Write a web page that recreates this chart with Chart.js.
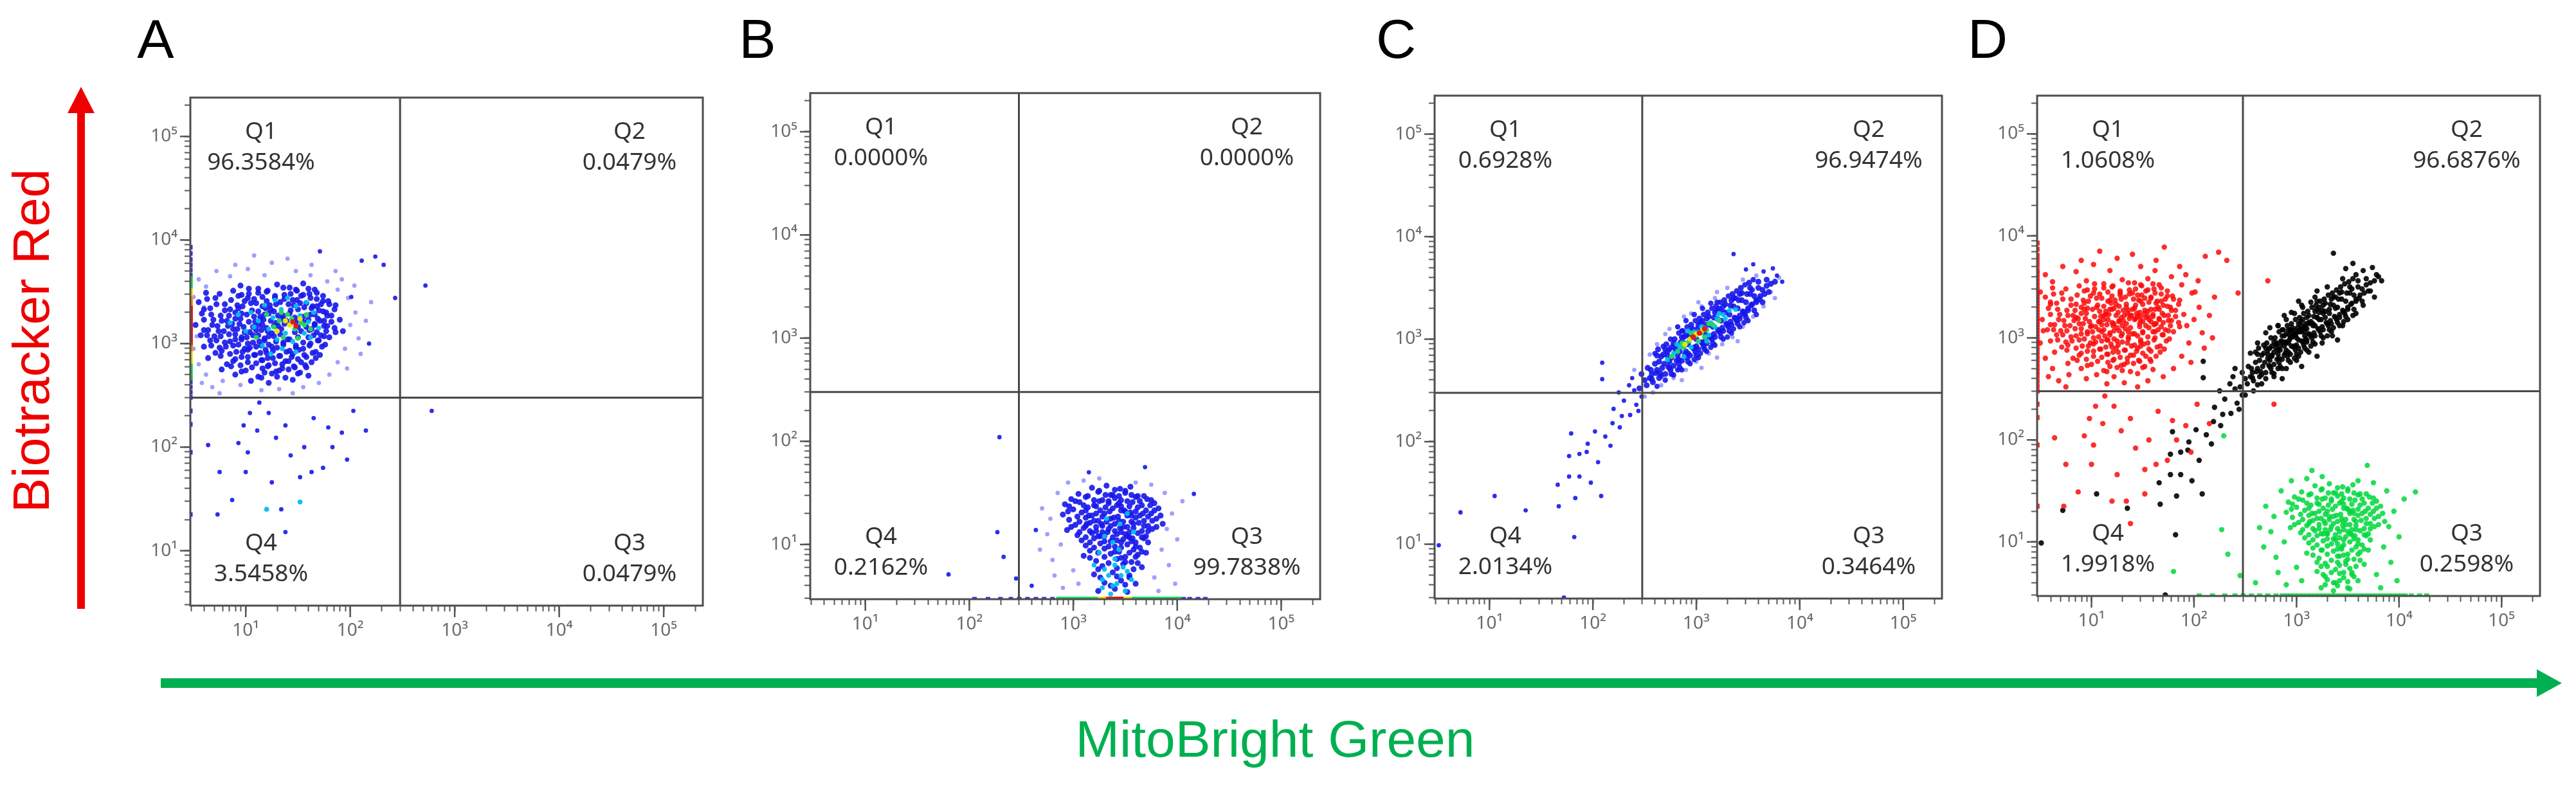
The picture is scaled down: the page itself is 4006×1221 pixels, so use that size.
<!DOCTYPE html>
<html>
<head>
<meta charset="utf-8">
<script src="https://cdn.jsdelivr.net/npm/chart.js@4.4.1/dist/chart.umd.min.js"></script>
<style>
  html, body { margin:0; padding:0; background:#fff; }
  #wrap { position:relative; width:4006px; height:1221px; overflow:hidden; background:#fff; }
  #wrap canvas { position:absolute; }
  #ov { position:absolute; left:0; top:0; }
</style>
</head>
<body>
<div id="wrap">
<svg id="ov" width="4006" height="1221" xmlns="http://www.w3.org/2000/svg"></svg>
</div>
<script>
// ---------------- DATA ----------------
const axisMin = 2.95, axisMax = 237000;
const decades = [10, 100, 1000, 10000, 100000];
const decadeLabels = ['10¹', '10²', '10³', '10⁴', '10⁵'];
const tickMultipliers = [1, 2, 3, 4, 5, 6, 7, 8, 9];
const gateX = 300, gateY = 300;
const panelLetters = ['A', 'B', 'C', 'D'];
const quadNames = ['Q1', 'Q2', 'Q3', 'Q4'];
const pctA = ['96.3584%', '0.0479%', '0.0479%', '3.5458%'];
const pctB = ['0.0000%', '0.0000%', '99.7838%', '0.2162%'];
const pctC = ['0.6928%', '96.9474%', '0.3464%', '2.0134%'];
const pctD = ['1.0608%', '96.6876%', '0.2598%', '1.9918%'];
const xTitle = 'MitoBright Green', yTitle = 'Biotracker Red';

const A_light = [[0.55,3.62],[0.72,3.70],[0.85,3.65],[1.02,3.72],[1.18,3.66],[1.25,3.78],[1.48,3.70],[1.62,3.66],[1.78,3.60],[1.88,3.52],[1.98,3.44],[2.05,3.30],[2.00,3.18],[2.08,3.05],[1.95,2.95],[1.88,2.82],[1.80,2.70],[1.70,2.62],[1.55,2.58],[1.32,2.56],[1.15,2.55],[0.95,2.60],[0.78,2.64],[0.62,2.70],[0.55,2.80],[0.50,2.95],[0.62,3.55],[0.50,3.45],[2.15,3.22],[2.10,2.90],[1.92,3.62],[0.75,2.52],[1.40,3.82],[1.08,3.85],[0.60,3.35],[0.53,3.07],[2.20,3.40],[1.97,2.76],[0.68,2.58],[1.63,3.76],[1.86,3.70],[2.04,3.56],[0.90,3.76],[0.58,2.62],[1.45,2.52]];
const A_outliers = [[1.71,3.89],[2.24,3.84],[2.32,3.76],[2.11,3.80],[2.43,3.44],[2.18,3.00],[2.01,3.45],[2.03,2.35],[2.15,2.16],[2.72,3.56],[2.78,2.35],[0.64,2.02],[0.75,1.76],[0.87,1.49],[1.00,1.76],[1.02,1.95],[1.11,2.16],[1.22,2.33],[1.13,2.43],[1.29,2.09],[1.38,2.21],[1.43,1.92],[1.56,2.00],[1.52,1.71],[1.63,1.76],[1.74,1.80],[1.83,2.00],[1.97,1.88],[1.92,2.14],[1.79,2.19],[1.65,2.28],[0.93,2.04],[0.98,2.21],[1.04,2.33],[1.25,1.66],[1.34,1.40],[0.73,1.35],[1.38,1.18]];
const A_blue = [[0.95,3.56],[1.12,3.53],[1.30,3.57],[1.42,3.54],[1.55,3.58],[1.66,3.52],
[0.62,3.49],[0.88,3.51],[1.03,3.48],[1.20,3.50],[1.37,3.47],[1.49,3.51],[1.61,3.48],[1.74,3.46],
[0.71,3.44],[0.93,3.46],[1.08,3.43],[1.16,3.45],[1.28,3.44],[1.45,3.42],[1.53,3.46],[1.68,3.43],[1.79,3.41],
[0.55,3.40],[0.80,3.38],[0.99,3.41],[1.10,3.39],[1.23,3.37],[1.33,3.40],[1.41,3.38],[1.58,3.39],[1.64,3.36],[1.72,3.38],[1.86,3.37],
[0.66,3.34],[0.85,3.33],[0.97,3.36],[1.06,3.32],[1.19,3.34],[1.27,3.31],[1.50,3.33],[1.56,3.35],[1.70,3.32],[1.77,3.30],
[0.58,3.29],[0.76,3.27],[0.90,3.30],[1.01,3.28],[1.14,3.26],[1.22,3.29],[1.36,3.27],[1.47,3.25],[1.62,3.28],[1.69,3.24],[1.82,3.27],[1.90,3.23],
[0.69,3.23],[0.82,3.22],[0.95,3.24],[1.09,3.21],[1.17,3.23],[1.29,3.20],[1.39,3.22],[1.55,3.21],[1.66,3.19],[1.75,3.22],
[0.52,3.18],[0.73,3.17],[0.87,3.19],[0.98,3.16],[1.12,3.18],[1.20,3.15],[1.31,3.17],[1.58,3.16],[1.63,3.14],[1.78,3.17],[1.85,3.15],
[0.64,3.13],[0.79,3.12],[0.92,3.14],[1.04,3.11],[1.15,3.13],[1.25,3.10],[1.53,3.12],[1.68,3.11],[1.72,3.08],[1.93,3.12],
[0.57,3.08],[0.70,3.07],[0.84,3.09],[0.96,3.06],[1.07,3.08],[1.18,3.05],[1.27,3.07],[1.40,3.04],[1.60,3.06],[1.70,3.03],[1.80,3.06],
[0.66,3.03],[0.80,3.01],[0.90,3.04],[1.02,3.00],[1.13,3.02],[1.22,2.99],[1.36,3.01],[1.48,2.98],[1.62,3.00],[1.76,2.99],
[0.60,2.97],[0.75,2.96],[0.88,2.98],[0.99,2.95],[1.10,2.97],[1.19,2.94],[1.30,2.96],[1.42,2.93],[1.55,2.95],[1.67,2.92],
[0.71,2.91],[0.85,2.90],[0.97,2.92],[1.08,2.89],[1.20,2.91],[1.33,2.88],[1.45,2.90],[1.58,2.87],[1.71,2.89],
[0.64,2.86],[0.90,2.85],[1.02,2.87],[1.15,2.84],[1.26,2.86],[1.38,2.83],[1.50,2.85],[1.63,2.82],
[0.82,2.80],[0.95,2.79],[1.10,2.81],[1.21,2.78],[1.35,2.80],[1.47,2.77],[1.57,2.79],
[0.77,2.75],[1.00,2.74],[1.16,2.76],[1.29,2.73],[1.41,2.75],[1.52,2.72],
[0.90,2.70],[1.12,2.68],[1.25,2.71],[1.38,2.67],[1.60,2.69],
[1.05,2.64],[1.22,2.62],[1.45,2.65]];
const A_blue2 = [[1.03,3.53],[1.21,3.51],[1.36,3.54],[1.48,3.52],[1.60,3.53],
[0.75,3.48],[0.96,3.47],[1.12,3.49],[1.28,3.46],[1.43,3.48],[1.55,3.47],[1.68,3.49],
[0.63,3.43],[0.86,3.42],[1.02,3.44],[1.20,3.41],[1.37,3.43],[1.49,3.42],[1.62,3.44],[1.74,3.41],
[0.72,3.38],[0.92,3.37],[1.05,3.39],[1.16,3.36],[1.29,3.38],[1.46,3.37],[1.52,3.39],[1.68,3.36],[1.80,3.38],
[0.60,3.33],[0.80,3.32],[0.93,3.34],[1.12,3.31],[1.24,3.33],[1.43,3.32],[1.63,3.34],[1.74,3.31],[1.85,3.33],
[0.67,3.28],[0.84,3.27],[0.96,3.29],[1.08,3.26],[1.18,3.28],[1.31,3.27],[1.42,3.29],[1.55,3.26],[1.66,3.28],[1.78,3.27],
[0.60,3.23],[0.77,3.22],[0.90,3.24],[1.03,3.21],[1.14,3.23],[1.24,3.22],[1.35,3.24],[1.48,3.21],[1.60,3.23],[1.71,3.22],[1.82,3.21],
[0.68,3.18],[0.83,3.17],[0.94,3.19],[1.07,3.16],[1.16,3.18],[1.27,3.17],[1.37,3.19],[1.50,3.16],[1.66,3.18],[1.75,3.17],
[0.60,3.13],[0.74,3.12],[0.88,3.14],[0.99,3.11],[1.10,3.13],[1.21,3.12],[1.34,3.14],[1.47,3.11],[1.61,3.13],[1.77,3.12],[1.86,3.11],
[0.63,3.08],[0.76,3.07],[0.90,3.09],[1.01,3.06],[1.12,3.08],[1.22,3.07],[1.33,3.09],[1.50,3.06],[1.65,3.08],[1.75,3.07],
[0.72,3.03],[0.85,3.02],[0.96,3.04],[1.07,3.01],[1.18,3.03],[1.29,3.02],[1.42,3.04],[1.55,3.01],[1.69,3.03],
[0.67,2.98],[0.81,2.97],[0.93,2.99],[1.04,2.96],[1.15,2.98],[1.25,2.97],[1.36,2.99],[1.48,2.96],[1.61,2.98],[1.73,2.97],
[0.77,2.93],[0.91,2.92],[1.02,2.94],[1.14,2.91],[1.26,2.93],[1.39,2.92],[1.51,2.94],[1.64,2.91],
[0.76,2.88],[0.96,2.87],[1.09,2.89],[1.21,2.86],[1.32,2.88],[1.44,2.87],[1.56,2.89],[1.67,2.86],
[0.88,2.83],[1.02,2.82],[1.16,2.84],[1.28,2.81],[1.41,2.83],[1.53,2.82],
[0.86,2.78],[1.06,2.77],[1.22,2.79],[1.35,2.76],[1.46,2.78],[1.58,2.77],
[0.96,2.73],[1.18,2.72],[1.32,2.74],[1.50,2.71],
[1.15,2.67],[1.30,2.68]];
const A_cyan = [[1.05,3.30],[1.18,3.37],[1.26,3.25],[1.34,3.33],[1.43,3.19],[1.48,3.36],[1.38,3.10],[1.52,3.27],[1.60,3.21],[1.22,3.14],[1.30,3.04],[1.45,3.02],[1.12,3.22],[1.56,3.10],[1.65,3.30],[1.35,2.95],[1.00,3.12],[0.93,3.28],[1.28,3.42],[1.70,3.15],[1.16,2.98],[1.58,3.40],[1.40,3.44],[0.85,3.20],[1.48,2.92],[1.20,1.40],[1.52,1.47],[1.08,3.16],[1.62,3.06],[1.24,2.90]];
const A_green = [[1.32,3.22],[1.40,3.28],[1.47,3.14],[1.53,3.20],[1.27,3.16],[1.36,3.06],[1.58,3.28],[1.20,3.28],[1.44,3.24],[1.62,3.14],[1.10,3.06],[1.50,3.05],[1.34,3.30],[1.56,3.18]];
const A_yellow = [[1.42,3.18],[1.38,3.22],[1.52,3.24],[1.30,3.12]];
const A_red = [[1.45,3.21],[1.48,3.17]];
// events piled up at the green-axis minimum (log10 red only)
const A_edgeBlue = [1.35,1.95,2.22,2.35,2.48,2.53,2.58,2.63,3.66,3.71,3.76,3.81,3.87,3.93];
const A_edgeGreen = [2.67,2.71,2.75,2.79,3.55,3.59,3.63];
const A_edgeYellow = [2.83,2.87,2.91,3.47,3.51];
const A_edgeOrange = [2.95,2.98,3.37,3.40,3.43];
const A_edgeRed = [3.01,3.04,3.07,3.10,3.13,3.16,3.19,3.22,3.25,3.28,3.31,3.34];

const B_light = [[2.70,1.35],[2.75,1.10],[2.80,0.85],[2.85,1.50],[2.82,0.70],[2.90,0.58],[2.95,1.60],[3.00,0.75],[3.05,0.62],[3.95,1.30],[4.00,1.05],[3.92,0.80],[3.88,1.50],[3.98,0.62],[3.82,0.55],[3.75,1.58],[3.10,1.62],[2.88,1.00],[2.68,0.95],[4.05,1.42],[3.85,0.95],[3.78,0.68],[2.78,1.25],[3.90,1.15],[3.25,1.64],[3.60,1.60]];
const B_outliers = [[2.29,2.04],[3.69,1.75],[4.16,1.49],[2.27,1.12],[2.33,0.88],[1.80,0.71],[2.45,0.67],[2.64,1.14],[3.15,1.70],[2.60,0.60]];
const B_blue = [[3.18,1.55],[3.32,1.57],[3.45,1.54],[3.55,1.56],
[3.05,1.49],[3.24,1.51],[3.38,1.48],[3.50,1.50],[3.62,1.47],
[2.98,1.44],[3.12,1.46],[3.28,1.43],[3.40,1.45],[3.52,1.42],[3.60,1.46],[3.71,1.44],
[2.92,1.39],[3.06,1.41],[3.20,1.38],[3.34,1.40],[3.46,1.37],[3.57,1.41],[3.66,1.38],[3.78,1.40],
[3.00,1.34],[3.14,1.36],[3.26,1.33],[3.38,1.35],[3.50,1.32],[3.62,1.36],[3.70,1.33],[3.82,1.35],
[2.90,1.29],[3.08,1.31],[3.18,1.28],[3.30,1.30],[3.43,1.27],[3.55,1.31],[3.64,1.28],[3.75,1.30],
[2.96,1.24],[3.12,1.26],[3.24,1.23],[3.36,1.25],[3.48,1.22],[3.60,1.26],[3.68,1.23],[3.80,1.25],
[3.02,1.19],[3.16,1.21],[3.28,1.18],[3.40,1.20],[3.52,1.17],[3.63,1.21],[3.72,1.18],[3.86,1.20],
[2.94,1.14],[3.10,1.16],[3.22,1.13],[3.34,1.15],[3.46,1.12],[3.58,1.16],[3.66,1.13],[3.76,1.15],
[3.04,1.09],[3.18,1.11],[3.30,1.08],[3.42,1.10],[3.54,1.07],[3.62,1.11],[3.70,1.08],
[3.08,1.04],[3.20,1.06],[3.36,1.03],[3.48,1.05],[3.60,1.02],[3.68,1.06],
[3.12,0.99],[3.26,1.01],[3.40,0.98],[3.52,1.00],[3.64,0.97],
[3.16,0.94],[3.30,0.96],[3.44,0.93],[3.58,0.95],[3.70,0.92],
[3.10,0.89],[3.36,0.91],[3.50,0.88],[3.62,0.90],
[3.22,0.84],[3.42,0.86],[3.56,0.83],
[3.28,0.79],[3.48,0.81],[3.66,0.78],
[3.20,0.71],[3.38,0.73],[3.54,0.70],
[3.30,0.63],[3.46,0.65],[3.60,0.62],
[3.24,0.55],[3.40,0.57],[3.52,0.54],
[3.25,1.42],[3.44,1.40],[3.31,1.36],[3.56,1.28],[3.22,1.30],[3.39,1.26],[3.49,1.33],[3.27,1.20],[3.45,1.16],[3.58,1.20],[3.33,1.12],[3.50,1.10],[3.24,1.08],[3.42,1.04],[3.57,1.06],[3.36,1.48],[3.13,1.20],[3.67,1.30]];
const B_blue2 = [[3.25,1.52],[3.40,1.53],[3.50,1.52],
[3.14,1.47],[3.31,1.48],[3.44,1.47],[3.56,1.48],[3.68,1.47],
[3.02,1.42],[3.20,1.43],[3.34,1.42],[3.46,1.43],[3.64,1.42],[3.75,1.43],
[2.96,1.37],[3.10,1.38],[3.22,1.37],[3.42,1.38],[3.54,1.37],[3.74,1.38],
[2.95,1.32],[3.12,1.33],[3.35,1.32],[3.46,1.33],[3.60,1.32],[3.78,1.33],
[3.04,1.27],[3.15,1.28],[3.28,1.27],[3.52,1.28],[3.72,1.27],[3.84,1.28],
[3.06,1.22],[3.20,1.23],[3.32,1.22],[3.44,1.23],[3.56,1.22],[3.76,1.23],
[2.98,1.17],[3.12,1.18],[3.22,1.17],[3.36,1.18],[3.48,1.17],[3.68,1.18],[3.80,1.17],
[3.06,1.12],[3.16,1.13],[3.28,1.12],[3.40,1.13],[3.54,1.12],[3.72,1.13],
[3.12,1.07],[3.26,1.08],[3.38,1.07],[3.52,1.08],[3.66,1.07],
[3.16,1.02],[3.30,1.03],[3.46,1.02],[3.56,1.03],[3.72,1.02],
[3.20,0.97],[3.34,0.98],[3.46,0.97],[3.60,0.98],
[3.24,0.92],[3.40,0.93],[3.54,0.92],[3.66,0.93],
[3.16,0.87],[3.30,0.88],[3.46,0.87],[3.60,0.88],
[3.34,0.82],[3.50,0.83],[3.62,0.82],
[3.24,0.76],[3.42,0.77],[3.58,0.76],
[3.26,0.68],[3.42,0.69],[3.54,0.68],
[3.36,0.60],[3.50,0.61]];
const B_cyan = [[3.30,1.08],[3.45,1.20],[3.52,1.30],[3.38,1.02],[3.25,0.92],[3.40,0.86],[3.48,0.78],[3.34,0.70],[3.42,0.62],[3.28,0.58],[3.50,0.55],[3.36,0.52],[3.56,0.66],[3.20,0.80],[3.44,0.95],[3.58,1.12],[3.32,1.25],[3.46,0.70],[3.38,0.60],[3.30,0.76],[3.52,0.74],[3.40,0.80],[3.28,0.66]];
// events piled up at the red-axis minimum (log10 green only)
const B_edgeBlue = [2.05,2.18,2.30,2.40,2.48,2.56,2.64,2.72,2.80,4.06,4.12,4.20,4.27];
const B_edgeGreen = [2.86,2.90,2.94,2.98,3.02,3.06,3.10,3.14,3.18,3.22,3.58,3.62,3.66,3.70,3.74,3.78,3.82,3.86,3.90,3.94,3.98,4.02];
const B_edgeYellow = [3.26,3.30,3.50,3.54];
const B_edgeRed = [3.34,3.38,3.42,3.46];

const C_light = [[2.40,2.70],[2.55,2.85],[2.62,2.95],[2.70,3.05],[2.82,3.12],[2.95,3.25],[3.05,3.32],[3.18,3.40],[3.30,3.50],[3.45,3.58],[3.58,3.62],[3.72,3.46],[3.65,3.32],[3.55,3.22],[3.45,3.12],[3.35,3.02],[3.25,2.95],[3.12,2.86],[3.00,2.78],[2.90,2.70],[2.78,2.62],[2.66,2.55],[2.58,2.48],[2.50,2.44],[3.80,3.60],[3.76,3.40],[2.74,3.10],[2.88,3.22],[3.02,3.36],[3.20,3.46],[3.40,2.98],[3.20,2.82],[3.05,2.72],[2.86,2.60]];
const C_outliers = [[3.36,3.83],[3.55,3.73],[3.74,3.69],[3.83,3.56],[3.65,3.66],[3.78,3.62],[3.48,3.68],[2.09,2.77],[2.09,2.61],[2.19,2.18],[1.79,2.08],[1.77,1.86],[1.87,1.88],[1.94,1.90],[1.77,1.66],[1.87,1.66],[1.98,1.60],[1.66,1.58],[1.67,1.37],[1.83,1.45],[2.08,1.47],[1.05,1.47],[1.35,1.33],[0.72,1.31],[1.82,1.07],[1.72,0.48],[0.51,0.99],[2.02,2.10],[2.17,1.96],[2.26,2.14],[2.36,2.26],[2.42,2.36],[2.30,2.40],[2.35,2.55],[2.25,2.48],[2.40,2.50],[2.44,2.30],[2.20,2.32],[2.28,2.25],[2.12,2.05],[1.95,1.98],[2.05,1.80],[2.38,2.62],[2.47,2.44]];
const C_blue = [[2.45,2.52],[2.47,2.66],[2.52,2.55],[2.53,2.72],[2.55,2.62],[2.58,2.58],[2.60,2.76],[2.61,2.67],
[2.64,2.62],[2.66,2.83],[2.67,2.72],[2.63,2.90],[2.70,2.66],[2.72,2.88],[2.74,2.78],[2.71,2.95],[2.75,2.70],
[2.78,2.74],[2.80,2.94],[2.82,2.84],[2.79,3.00],[2.83,2.76],[2.86,2.79],[2.88,3.02],[2.90,2.88],[2.87,3.08],[2.91,2.82],
[2.94,2.84],[2.96,3.10],[2.98,2.92],[2.95,3.14],[2.99,2.88],[3.02,2.90],[3.04,3.16],[3.06,2.96],[3.03,3.20],[3.07,2.93],
[3.10,2.96],[3.12,3.22],[3.14,3.02],[3.11,3.26],[3.15,3.00],[3.18,3.02],[3.20,3.28],[3.22,3.08],[3.19,3.32],[3.23,3.06],
[3.26,3.08],[3.28,3.34],[3.30,3.14],[3.27,3.38],[3.31,3.12],[3.34,3.14],[3.36,3.40],[3.38,3.20],[3.35,3.44],[3.39,3.18],
[3.42,3.20],[3.44,3.45],[3.46,3.26],[3.43,3.50],[3.47,3.24],[3.50,3.28],[3.52,3.50],[3.54,3.34],[3.51,3.55],
[3.58,3.36],[3.60,3.56],[3.62,3.42],[3.66,3.44],[3.68,3.58],
[2.50,2.60],[2.57,2.66],[2.62,2.70],[2.69,2.76],[2.76,2.82],[2.84,2.88],[2.92,2.95],[3.00,3.00],[3.08,3.06],[3.16,3.12],[3.24,3.18],[3.32,3.24],[3.40,3.30],[3.48,3.36],[3.56,3.42],[3.64,3.48],[3.72,3.54],
[2.68,2.85],[2.76,2.92],[2.85,2.97],[2.93,3.03],[3.01,3.10],[3.09,3.14],[3.17,3.21],[3.25,3.27],[3.33,3.33],[3.41,3.38],[3.49,3.44],
[2.74,2.72],[2.83,2.80],[2.92,2.86],[3.00,2.93],[3.09,2.99],[3.17,3.05],[3.25,3.11],[3.33,3.17],[3.42,3.23],[3.50,3.30],[3.58,3.38]];
const C_blue2 = [[2.56,2.70],[2.57,2.61],[2.64,2.78],[2.65,2.67],[2.62,2.84],
[2.72,2.84],[2.73,2.73],[2.70,2.90],[2.76,2.66],[2.80,2.90],[2.81,2.79],[2.78,2.96],[2.84,2.72],
[2.88,2.96],[2.89,2.85],[2.86,3.02],[2.92,2.78],[2.96,3.02],[2.97,2.91],[2.94,3.08],[3.00,2.84],
[3.04,3.08],[3.05,2.97],[3.02,3.14],[3.08,2.90],[3.12,3.14],[3.13,3.03],[3.10,3.20],[3.16,2.96],
[3.20,3.20],[3.21,3.09],[3.18,3.26],[3.24,3.02],[3.28,3.26],[3.29,3.15],[3.26,3.32],[3.32,3.08],
[3.36,3.32],[3.37,3.21],[3.34,3.38],[3.40,3.15],[3.44,3.38],[3.45,3.27],[3.42,3.44],[3.48,3.21],
[3.52,3.44],[3.53,3.33],[3.56,3.28],[3.60,3.50],[3.61,3.39],[3.64,3.36],[3.68,3.52],[3.70,3.46],[3.76,3.56]];
const C_blue3 = [[2.60,2.86],[2.62,2.54],[2.68,2.93],[2.70,2.60],[2.75,3.00],[2.78,2.65],
[2.83,3.06],[2.86,2.70],[2.82,3.12],[2.91,3.12],[2.94,2.76],[2.90,3.18],[2.99,3.18],[3.02,2.82],[2.98,3.24],
[3.07,3.24],[3.10,2.88],[3.06,3.30],[3.15,3.30],[3.18,2.94],[3.14,3.35],[3.23,3.36],[3.26,3.00],
[3.31,3.42],[3.34,3.06],[3.39,3.47],[3.42,3.12],[3.47,3.53],[3.50,3.18],[3.55,3.58],[3.58,3.24],
[2.66,2.64],[2.74,2.90],[2.82,2.70],[2.90,3.04],[2.98,2.80],[3.06,3.18],[3.14,2.92],[3.22,3.30],[3.30,3.02],[3.38,3.40],[3.46,3.16],[3.54,3.48],[2.86,3.08],[3.04,2.86],[3.20,3.36],[3.36,3.10]];
const C_cyan = [[2.72,2.80],[2.78,2.86],[2.84,2.92],[2.90,2.96],[2.96,3.01],[3.02,3.07],[3.08,3.11],[3.14,3.16],[3.20,3.20],[3.26,3.24],[3.32,3.28],[2.81,2.95],[2.95,2.92],[3.05,3.12],[3.12,3.04],[3.22,3.25],[2.88,2.83],[3.38,3.29],[2.98,3.07],[3.18,3.12],[2.92,3.08],[3.10,2.98],[3.28,3.20]];
const C_green = [[2.82,2.88],[2.88,2.92],[2.93,2.98],[2.99,3.03],[3.05,3.06],[3.10,3.09],[3.16,3.14],[2.86,2.96],[3.02,2.98],[3.12,3.15],[2.76,2.83],[3.22,3.18],[2.95,3.06],[3.08,3.02]];
const C_yellow = [[2.94,3.00],[3.00,3.05],[3.06,3.09],[2.89,2.95]];
const C_red = [[2.97,3.02],[3.03,3.06],[3.08,3.10]];

// ---------------- HELPERS ----------------
const tickValues = [];
[1, 10, 100, 1000, 10000, 100000].forEach(b => tickMultipliers.forEach(k => {
  const v = k * b; if (v >= axisMin && v <= axisMax) tickValues.push(v);
}));
const ev = arr => arr.map(p => ({ x: Math.pow(10, p[0]), y: Math.pow(10, p[1]) }));
const atXMin = ys => ys.map(v => ({ x: axisMin, y: Math.pow(10, v) }));
const atYMin = xs => xs.map(v => ({ x: Math.pow(10, v), y: axisMin }));

const COL = {
  light: 'rgba(95,95,255,0.6)', blue: 'rgba(22,22,235,0.9)', cyan: 'rgba(0,190,240,0.95)',
  green: 'rgb(35,215,95)', yellow: 'rgb(238,226,0)', orange: 'rgb(255,140,0)', red: 'rgb(232,25,20)',
  dRed: 'rgba(250,10,10,0.85)', dBlack: 'rgba(0,0,0,0.9)', dGreen: 'rgba(0,215,60,0.85)'
};
const L = (data, color, r, style) => ({ data, color, r, style: style || 'circle' });
const A_all = [].concat(A_light, A_outliers, A_blue, A_blue2, A_cyan, A_green, A_yellow, A_red);
const A_edgeAll = [].concat(A_edgeBlue, A_edgeGreen, A_edgeYellow, A_edgeOrange, A_edgeRed);
const B_all = [].concat(B_light, B_outliers, B_blue, B_blue2, B_cyan);
const B_edgeAll = [].concat(B_edgeBlue, B_edgeGreen, B_edgeYellow, B_edgeRed);
const C_all = [].concat(C_light, C_outliers, C_blue, C_blue2, C_blue3, C_cyan, C_green, C_yellow, C_red);

const panels = [
  { box: [296, 144, 1093, 942], pct: pctA, layers: [
    L(ev(A_light), COL.light, 3.4), L(ev(A_outliers), COL.blue, 3.4), L(ev(A_blue), COL.blue, 4.6), L(ev(A_blue2), COL.blue, 4.6),
    L(ev(A_cyan), COL.cyan, 3.8), L(ev(A_green), COL.green, 3.8), L(ev(A_yellow), COL.yellow, 4), L(ev(A_red), COL.red, 4),
    L(atXMin(A_edgeBlue), COL.blue, 5, 'rect'), L(atXMin(A_edgeGreen), COL.green, 5.5, 'rect'),
    L(atXMin(A_edgeYellow), COL.yellow, 5.5, 'rect'), L(atXMin(A_edgeOrange), COL.orange, 5.5, 'rect'), L(atXMin(A_edgeRed), COL.red, 5.5, 'rect') ] },
  { box: [1260, 137, 2053, 932], pct: pctB, layers: [
    L(ev(B_light), COL.light, 3.4), L(ev(B_outliers), COL.blue, 3.4), L(ev(B_blue), COL.blue, 4.6), L(ev(B_blue2), COL.blue, 4.6), L(ev(B_cyan), COL.cyan, 3.8),
    L(atYMin(B_edgeBlue), COL.blue, 5, 'rect'), L(atYMin(B_edgeGreen), COL.green, 5.5, 'rect'),
    L(atYMin(B_edgeYellow), COL.yellow, 5.5, 'rect'), L(atYMin(B_edgeRed), COL.red, 5.5, 'rect') ] },
  { box: [2231, 141, 3020, 931], pct: pctC, layers: [
    L(ev(C_light), COL.light, 3.4), L(ev(C_outliers), COL.blue, 3.4), L(ev(C_blue3), COL.blue, 4.2), L(ev(C_blue), COL.blue, 4.6), L(ev(C_blue2), COL.blue, 4.6), L(ev(C_cyan), COL.cyan, 3.8),
    L(ev(C_green), COL.green, 3.8), L(ev(C_yellow), COL.yellow, 4), L(ev(C_red), COL.red, 4.2) ] },
  { box: [3168, 141, 3950, 927], pct: pctD, layers: [
    L(ev(C_all), COL.dBlack, 4.2),
    L(ev(B_all), COL.dGreen, 4.2),
    L(atYMin(B_edgeAll), COL.dGreen, 5.5, 'rect'),
    L(ev(A_all), COL.dRed, 4.2),
    L(atXMin(A_edgeAll), COL.dRed, 5.5, 'rect') ] }
];

// ---------------- PLUGIN: frame, decade ticks, quadrant labels ----------------
const decor = {
  id: 'decor',
  afterDatasetsDraw(chart) {
    const { ctx, chartArea: a, scales: { x, y } } = chart;
    const o = chart.options.plugins.decor;
    ctx.save();
    ctx.strokeStyle = '#4d4d4d'; ctx.lineWidth = 3;
    ctx.strokeRect(a.left, a.top, a.right - a.left, a.bottom - a.top);
    ctx.strokeStyle = '#555'; ctx.lineWidth = 2.5;
    decades.forEach(v => {
      const px = x.getPixelForValue(v), py = y.getPixelForValue(v);
      ctx.beginPath(); ctx.moveTo(px, a.bottom); ctx.lineTo(px, a.bottom + 18); ctx.stroke();
      ctx.beginPath(); ctx.moveTo(a.left, py); ctx.lineTo(a.left - 16, py); ctx.stroke();
    });
    ctx.fillStyle = '#333';
    ctx.font = '37px "Noto Sans"';
    ctx.textAlign = 'center'; ctx.textBaseline = 'middle';
    const xl = a.left + 110, xr = a.right - 114;
    const pos = [[xl, a.top + 54, a.top + 102], [xr, a.top + 54, a.top + 102],
                 [xr, a.bottom - 97, a.bottom - 49], [xl, a.bottom - 97, a.bottom - 49]];
    pos.forEach((p, i) => {
      ctx.fillText(quadNames[i], p[0], p[1]);
      ctx.fillText(o.pct[i], p[0], p[2]);
    });
    ctx.restore();
  }
};

function axis(isX) {
  return {
    type: 'logarithmic', min: axisMin, max: axisMax, position: isX ? 'bottom' : 'left',
    afterBuildTicks: s => { s.ticks = tickValues.map(v => ({ value: v, major: decades.includes(v) })); },
    afterFit: s => { if (isX) s.height = 70; else s.width = 130; },
    grid: { display: true, drawOnChartArea: false, drawTicks: true, tickLength: 9, tickColor: '#5a5a5a', tickWidth: 2 },
    border: { display: false },
    ticks: {
      autoSkip: false, maxRotation: 0, minRotation: 0, padding: isX ? 13 : 11, color: '#6a6a6a',
      font: { size: 28, family: 'Noto Sans' },
      callback: v => { const i = decades.indexOf(v); return i >= 0 ? decadeLabels[i] : ''; }
    }
  };
}

const wrap = document.getElementById('wrap');
panels.forEach(p => {
  const [l, t, r, b] = p.box;
  const cv = document.createElement('canvas');
  const cl = l - 130, ct = t - 20, cw = (r - l) + 150, ch = (b - t) + 90;
  cv.width = cw; cv.height = ch;
  cv.style.left = cl + 'px'; cv.style.top = ct + 'px';
  cv.style.width = cw + 'px'; cv.style.height = ch + 'px';
  wrap.appendChild(cv);
  const n = p.layers.length;
  const datasets = p.layers.map((ly, i) => ({
    data: ly.data, backgroundColor: ly.color, borderWidth: 0, pointRadius: ly.r,
    pointStyle: ly.style, order: n - i + 2
  }));
  datasets.push({ type: 'line', data: [{ x: axisMin, y: gateY }, { x: axisMax, y: gateY }], borderColor: '#474747', borderWidth: 3, pointRadius: 0, order: 1 });
  datasets.push({ type: 'line', data: [{ x: gateX, y: axisMin }, { x: gateX, y: axisMax }], borderColor: '#474747', borderWidth: 3, pointRadius: 0, order: 0 });
  new Chart(cv, {
    type: 'scatter',
    data: { datasets },
    options: {
      responsive: false, maintainAspectRatio: false, animation: false, devicePixelRatio: 1, events: [],
      layout: { padding: { top: 20, right: 20, left: 0, bottom: 0 } },
      plugins: { legend: { display: false }, tooltip: { enabled: false }, decor: { pct: p.pct } },
      scales: { x: axis(true), y: axis(false) }
    },
    plugins: [decor]
  });
});

// ---------------- Figure annotations (SVG text + arrows) ----------------
const svg = document.getElementById('ov');
const NS = 'http://www.w3.org/2000/svg';
function el(tag, attrs, text) {
  const e = document.createElementNS(NS, tag);
  Object.keys(attrs).forEach(k => e.setAttribute(k, attrs[k]));
  if (text) e.textContent = text;
  svg.appendChild(e); return e;
}
const letterX = [242, 1178, 2171, 3091];
panelLetters.forEach((s, i) => el('text', { x: letterX[i], y: 90, 'text-anchor': 'middle', 'font-family': 'Liberation Sans, Arial, sans-serif', 'font-size': 86, fill: '#000' }, s));
const RED = '#ee0000', GREEN = '#00b050';
el('rect', { x: 120, y: 172, width: 12, height: 775, fill: RED });
el('polygon', { points: '105,176 147,176 126,135', fill: RED });
el('text', { transform: 'translate(76,530) rotate(-90)', 'text-anchor': 'middle', 'font-family': 'Liberation Sans, Arial, sans-serif', 'font-size': 80, fill: RED, textLength: 535, lengthAdjust: 'spacingAndGlyphs' }, yTitle);
el('rect', { x: 250, y: 1055, width: 3700, height: 15, fill: GREEN });
el('polygon', { points: '3945,1041 3945,1084 3984,1062.5', fill: GREEN });
el('text', { x: 1983, y: 1177, 'text-anchor': 'middle', 'font-family': 'Liberation Sans, Arial, sans-serif', 'font-size': 80, fill: GREEN, textLength: 621, lengthAdjust: 'spacingAndGlyphs' }, xTitle);
</script>
</body>
</html>
